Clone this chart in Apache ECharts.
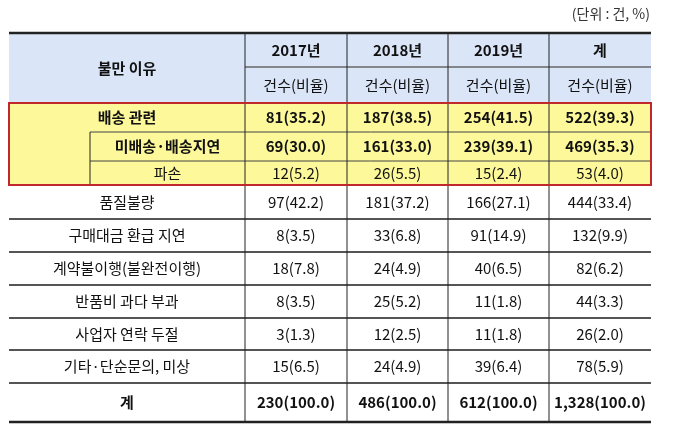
<!DOCTYPE html>
<html><head><meta charset="utf-8">
<script src="https://cdn.jsdelivr.net/npm/echarts@6/dist/echarts.min.js"></script>
<style>html,body{margin:0;background:#fff}#c{width:680px;height:437px}</style>
</head><body><div id="c"></div>
<script>
// 표 데이터
const years = ['2017년', '2018년', '2019년', '계'];
const subHeader = '건수(비율)';
const reasons = ['배송 관련', '미배송·배송지연', '파손', '품질불량', '구매대금 환급 지연',
  '계약불이행(불완전이행)', '반품비 과다 부과', '사업자 연락 두절', '기타·단순문의, 미상', '계'];
const counts = [
  [81, 187, 254, 522], [69, 161, 239, 469], [12, 26, 15, 53], [97, 181, 166, 444],
  [8, 33, 91, 132], [18, 24, 40, 82], [8, 25, 11, 44], [3, 12, 11, 26],
  [15, 24, 39, 78], [230, 486, 612, 1328]
];
const ratios = [
  [35.2, 38.5, 41.5, 39.3], [30.0, 33.0, 39.1, 35.3], [5.2, 5.5, 2.4, 4.0], [42.2, 37.2, 27.1, 33.4],
  [3.5, 6.8, 14.9, 9.9], [7.8, 4.9, 6.5, 6.2], [3.5, 5.2, 1.8, 3.3], [1.3, 2.5, 1.8, 2.0],
  [6.5, 4.9, 6.4, 5.9], [100.0, 100.0, 100.0, 100.0]
];
const boldRows = [0, 1, 9];

// 레이아웃
const colEdges = [9, 245, 347, 448, 549, 651];
const rowEdges = [33, 67, 103, 132, 161, 185, 219, 252, 285, 318, 350, 383, 422];
const indentX = 90;
const FONT = '"Noto Sans CJK KR", sans-serif';

const cells = [];
cells.push([colEdges[0], colEdges[1], rowEdges[0], rowEdges[2], '불만 이유', 1]);
years.forEach((y, i) => {
  cells.push([colEdges[i + 1], colEdges[i + 2], rowEdges[0], rowEdges[1], y, 1]);
  cells.push([colEdges[i + 1], colEdges[i + 2], rowEdges[1], rowEdges[2], subHeader, 0]);
});
reasons.forEach((r, j) => {
  const y0 = rowEdges[j + 2], y1 = rowEdges[j + 3];
  const bold = boldRows.includes(j) ? 1 : 0;
  const lx0 = (j === 1 || j === 2) ? indentX : colEdges[0];
  cells.push([lx0, colEdges[1], y0, y1, r, bold]);
  counts[j].forEach((v, i) => {
    const txt = v.toLocaleString('en-US') + '(' + ratios[j][i].toFixed(1) + ')';
    cells.push([colEdges[i + 1], colEdges[i + 2], y0, y1, txt, bold]);
  });
});

const L = colEdges[0], R = colEdges[5];
const g = [];
// 배경
g.push({ type: 'rect', shape: { x: L, y: rowEdges[0], width: R - L, height: rowEdges[2] - rowEdges[0] }, style: { fill: '#dae5f7' } });
g.push({ type: 'rect', shape: { x: L, y: rowEdges[2], width: R - L, height: rowEdges[5] - rowEdges[2] }, style: { fill: '#fdf99b' } });
// 선
const hline = (x0, x1, y, w, c) => g.push({ type: 'line', shape: { x1: x0, y1: y, x2: x1, y2: y }, style: { stroke: c, lineWidth: w } });
const vline = (x, y0, y1, w, c) => g.push({ type: 'line', shape: { x1: x, y1: y0, x2: x, y2: y1 }, style: { stroke: c, lineWidth: w } });
hline(L, R, rowEdges[0], 2.5, '#222');
hline(colEdges[1], R, rowEdges[1], 1.5, '#666');
hline(indentX, R, rowEdges[3], 1, '#444');
hline(indentX, R, rowEdges[4], 1, '#444');
for (let k = 6; k < 12; k++) hline(L, R, rowEdges[k], 2, '#555');
hline(L, R, rowEdges[12], 2.5, '#222');
for (let i = 1; i < 5; i++) vline(colEdges[i], rowEdges[0], rowEdges[12], 1, '#222');
vline(indentX, rowEdges[3], rowEdges[5], 1, '#222');
g.push({ type: 'rect', shape: { x: L, y: rowEdges[2], width: R - L, height: rowEdges[5] - rowEdges[2] }, style: { fill: null, stroke: '#c0282d', lineWidth: 2 }, z: 10 });
g.push({ type: 'text', right: 680 - 650, top: 7, style: { text: '(단위 : 건, %)', font: '14px ' + FONT, fill: '#333' } });

const chart = echarts.init(document.getElementById('c'));
chart.setOption({
  animation: false,
  grid: { left: 0, right: 0, top: 0, bottom: 0 },
  xAxis: { type: 'value', min: 0, max: 680, show: false },
  yAxis: { type: 'value', min: 0, max: 437, inverse: true, show: false },
  graphic: g,
  series: [{
    type: 'custom',
    z: 20,
    data: cells,
    renderItem: (params, api) => {
      const p0 = api.coord([api.value(0), api.value(2)]);
      const p1 = api.coord([api.value(1), api.value(3)]);
      const item = cells[params.dataIndex];
      return {
        type: 'text',
        style: {
          text: item[4],
          x: (p0[0] + p1[0]) / 2, y: (p0[1] + p1[1]) / 2,
          align: 'center', verticalAlign: 'middle',
          font: (item[5] ? 'bold ' : '') + '15px ' + FONT,
          fill: '#111'
        }
      };
    }
  }]
});
</script></body></html>
